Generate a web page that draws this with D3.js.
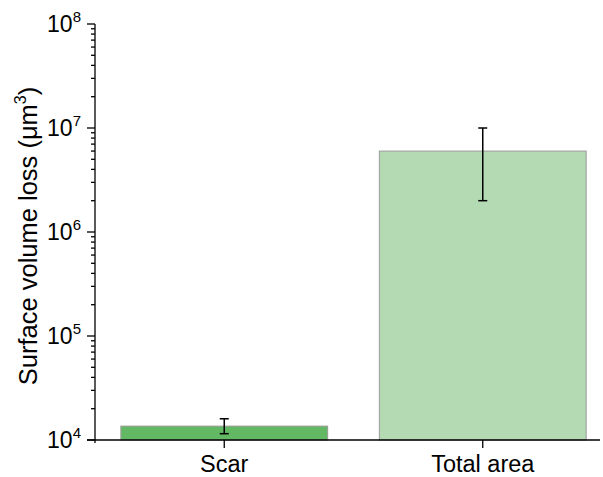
<!DOCTYPE html>
<html>
<head>
<meta charset="utf-8">
<script src="https://cdn.jsdelivr.net/npm/d3@7"></script>
<style>
  html, body { margin: 0; padding: 0; background: #fff; }
  svg { display: block; font-family: Arial, "Liberation Sans", sans-serif; }
</style>
</head>
<body>
<svg id="chart" width="603" height="477"></svg>
<script>
// Surface volume loss per region (μm³), mean with error range
const categories = ["Scar", "Total area"];
const values = [1.36e4, 6.0e6];
const errLow = [1.15e4, 2.0e6];
const errHigh = [1.6e4, 1.0e7];
const fills = ["#63b863", "#b3dab3"];
const tickExponents = [4, 5, 6, 7, 8];

const svg = d3.select("#chart");
const x0 = 95, x1 = 612, yTop = 24, yBottom = 440;

const y = d3.scaleLog().domain([1e4, 1e8]).range([yBottom, yTop]);
const x = d3.scaleBand().domain(categories).range([x0, x1])
  .paddingInner(0.2).paddingOuter(0.1);

// bars
svg.append("g").selectAll("rect").data(categories).join("rect")
  .attr("x", d => x(d))
  .attr("width", x.bandwidth())
  .attr("y", (d, i) => y(values[i]))
  .attr("height", (d, i) => yBottom - y(values[i]))
  .attr("fill", (d, i) => fills[i])
  .attr("stroke", "#9a9a9a")
  .attr("stroke-width", 1);

// error bars
const eb = svg.append("g").attr("stroke", "#000").attr("stroke-width", 1.5);
categories.forEach((c, i) => {
  const cx = x(c) + x.bandwidth() / 2;
  eb.append("line").attr("x1", cx).attr("x2", cx)
    .attr("y1", y(errLow[i])).attr("y2", y(errHigh[i]));
  [errLow[i], errHigh[i]].forEach(v => {
    eb.append("line").attr("x1", cx - 4.5).attr("x2", cx + 4.5)
      .attr("y1", y(v)).attr("y2", y(v));
  });
});

// y axis: major ticks at decades, minor at 2..9
const minor = [];
for (let e = 4; e < 8; e++) for (let m = 2; m <= 9; m++) minor.push(m * Math.pow(10, e));
const yAxis = svg.append("g").attr("stroke", "#000").attr("stroke-width", 1.3);
yAxis.append("line").attr("x1", x0).attr("x2", x0).attr("y1", yTop).attr("y2", yBottom + 3);
yAxis.selectAll("line.minor").data(minor).join("line").attr("class", "minor")
  .attr("x1", x0 - 4).attr("x2", x0)
  .attr("y1", d => y(d)).attr("y2", d => y(d));
yAxis.selectAll("line.major").data(tickExponents).join("line").attr("class", "major")
  .attr("x1", x0 - 8).attr("x2", x0)
  .attr("y1", d => y(Math.pow(10, d))).attr("y2", d => y(Math.pow(10, d)));

const yLabels = svg.append("g").attr("font-size", 23).attr("fill", "#000");
tickExponents.forEach(e => {
  const t = yLabels.append("text")
    .attr("x", 81).attr("y", y(Math.pow(10, e)) + 8)
    .attr("text-anchor", "end");
  t.append("tspan").text("10");
  t.append("tspan").attr("font-size", 15).attr("dy", -10).text(e);
});

// x axis
const xAxis = svg.append("g").attr("stroke", "#000").attr("stroke-width", 1.3);
xAxis.append("line").attr("x1", x0 - 8).attr("x2", 600).attr("y1", yBottom).attr("y2", yBottom);
xAxis.selectAll("line.tick").data(categories).join("line").attr("class", "tick")
  .attr("x1", d => x(d) + x.bandwidth() / 2).attr("x2", d => x(d) + x.bandwidth() / 2)
  .attr("y1", yBottom).attr("y2", yBottom + 8);

svg.append("g").selectAll("text").data(categories).join("text")
  .attr("x", d => x(d) + x.bandwidth() / 2)
  .attr("y", 472)
  .attr("text-anchor", "middle")
  .attr("font-size", 23.5)
  .text(d => d);

// y axis title
const title = svg.append("text")
  .attr("transform", "translate(37, 236) rotate(-90)")
  .attr("text-anchor", "middle")
  .attr("font-size", 25.5);
title.append("tspan").text("Surface volume loss (μm");
title.append("tspan").attr("font-size", 16).attr("dy", -11).text("3");
title.append("tspan").attr("dy", 11).text(")");
</script>
</body>
</html>
